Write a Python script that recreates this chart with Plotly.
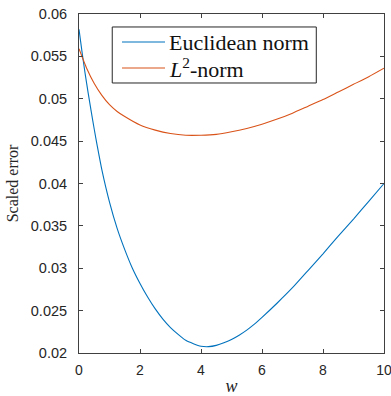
import plotly.graph_objects as go

# Scaled error versus weight parameter w for the two norms
w_euclid = [0, 0.1, 0.2, 0.3, 0.4, 0.5, 0.6, 0.75, 1.0, 1.25, 1.5, 1.75, 2.0, 2.25,
            2.5, 2.75, 3.0, 3.25, 3.5, 3.75, 4.0, 4.25, 4.5, 4.75, 5.0, 5.25, 5.5,
            5.75, 6.0, 6.5, 7.0, 7.5, 8.0, 8.5, 9.0, 9.5, 10.0]
err_euclid = [0.0582, 0.0555, 0.0530, 0.0507, 0.0485, 0.0464, 0.0444, 0.0416, 0.0378,
              0.0347, 0.0322, 0.0300, 0.0282, 0.0266, 0.0252, 0.0240, 0.0230, 0.0222,
              0.0215, 0.0211, 0.0208, 0.02075, 0.0209, 0.0212, 0.0216, 0.0221, 0.0227,
              0.0234, 0.0242, 0.0259, 0.0277, 0.0297, 0.0317, 0.0338, 0.0358, 0.0379,
              0.0400]

w_l2 = [0, 0.25, 0.5, 0.75, 1.0, 1.25, 1.5, 2.0, 2.5, 3.0, 3.5, 4.0, 4.5, 5.0,
        5.5, 6.0, 6.5, 7.0, 7.5, 8.0, 8.5, 9.0, 9.5, 10.0]
err_l2 = [0.0559, 0.0536, 0.0518, 0.0504, 0.0493, 0.0485, 0.0479, 0.0469, 0.0463,
          0.0459, 0.0457, 0.0457, 0.0458, 0.0461, 0.0465, 0.0470, 0.0476, 0.0483,
          0.0491, 0.0499, 0.0508, 0.0517, 0.0526, 0.0536]

series_names = ["Euclidean norm", "<i>L</i><sup>2</sup>-norm"]
series_colors = ["#0072BD", "#D95319"]

x_ticks = [0, 2, 4, 6, 8, 10]
y_ticks = [0.02, 0.025, 0.03, 0.035, 0.04, 0.045, 0.05, 0.055, 0.06]

axis_color = "#404040"
serif = "Liberation Serif, Times New Roman, serif"
sans = "Liberation Sans, Arial, sans-serif"

fig = go.Figure()
for xs, ys, name, color in zip([w_euclid, w_l2], [err_euclid, err_l2], series_names, series_colors):
    fig.add_trace(go.Scatter(x=xs, y=ys, mode="lines", name=name, showlegend=False,
                             line=dict(color=color, width=1.1, shape="spline", smoothing=0.5)))

# Boxed legend in the upper part of the axes (paper coordinates)
box_x0, box_x1, box_y0, box_y1 = 0.109, 0.778, 0.7965, 0.9617
row_y = [0.9174, 0.8407]
sample_x0, sample_x1, text_x = 0.141, 0.282, 0.290

shapes = [dict(type="rect", xref="paper", yref="paper", x0=box_x0, x1=box_x1, y0=box_y0, y1=box_y1,
               line=dict(color="#262626", width=1), fillcolor="white", layer="above")]
annotations = []
for name, color, ry in zip(series_names, series_colors, row_y):
    shapes.append(dict(type="line", xref="paper", yref="paper", x0=sample_x0, x1=sample_x1,
                       y0=ry, y1=ry, line=dict(color=color, width=1.1), layer="above"))
    annotations.append(dict(text=name, xref="paper", yref="paper", x=text_x, y=ry,
                            xanchor="left", yanchor="middle", showarrow=False,
                            font=dict(family=serif, size=22, color="#111111")))

fig.update_layout(
    width=391, height=396,
    margin=dict(l=78.5, r=6.5, t=14, b=43),
    plot_bgcolor="white", paper_bgcolor="white",
    shapes=shapes, annotations=annotations,
)

fig.update_xaxes(
    range=[0, 10], tickvals=x_ticks, ticktext=[str(v) for v in x_ticks],
    ticks="inside", ticklen=4, tickwidth=1, tickcolor=axis_color,
    showline=True, linecolor=axis_color, linewidth=1, mirror="ticks",
    showgrid=False, zeroline=False, automargin=False, ticklabeloverflow="allow",
    tickfont=dict(family=sans, size=14, color="#262626"),
    ticklabelstandoff=4,
    title=dict(text="<i>w</i>", font=dict(family=serif, size=18, color="#262626"), standoff=4),
)
fig.update_yaxes(
    range=[0.02, 0.06], tickvals=y_ticks, ticktext=[f"{v:g}" for v in y_ticks],
    ticks="inside", ticklen=4, tickwidth=1, tickcolor=axis_color,
    showline=True, linecolor=axis_color, linewidth=1, mirror="ticks",
    showgrid=False, zeroline=False, automargin=False, ticklabeloverflow="allow",
    tickfont=dict(family=sans, size=14.5, color="#262626"),
    ticklabelstandoff=8,
    title=dict(text="Scaled error", font=dict(family=serif, size=16, color="#262626"), standoff=8),
)

fig.write_html("out.html")
